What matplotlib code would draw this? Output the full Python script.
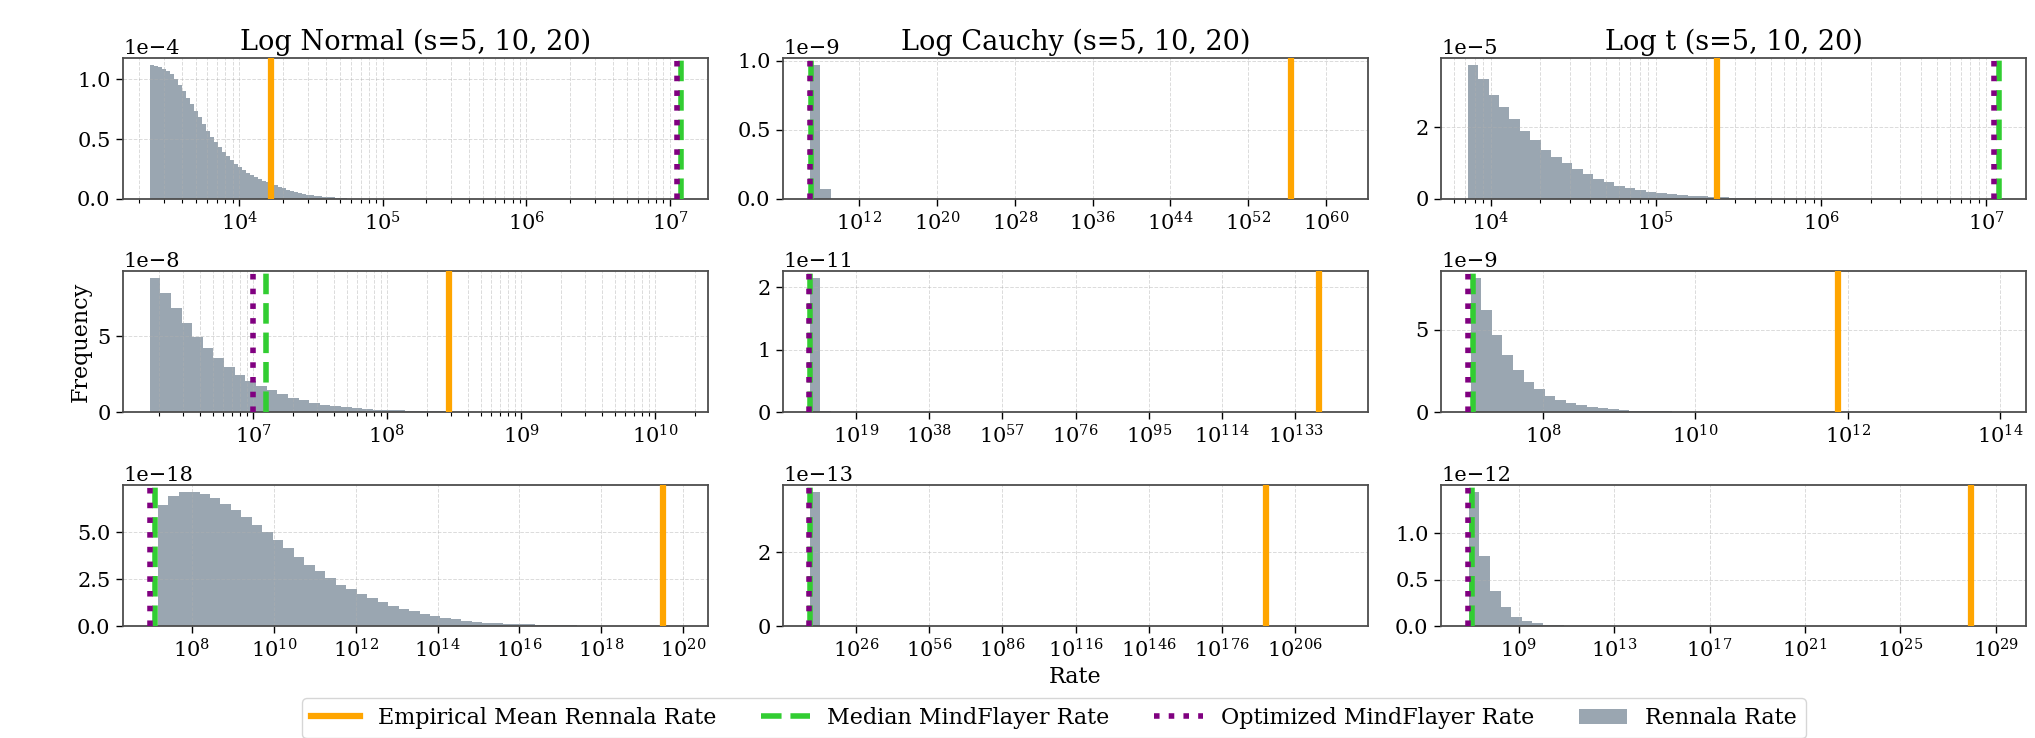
import numpy as np
import matplotlib
matplotlib.use("Agg")
import matplotlib.pyplot as plt
from matplotlib.ticker import LogLocator, NullLocator, NullFormatter, FixedLocator

plt.rcParams['font.family'] = 'serif'
plt.rcParams['font.serif'] = ['DejaVu Serif']
plt.rcParams['mathtext.fontset'] = 'dejavuserif'

col_titles = ["Log Normal (s=5, 10, 20)", "Log Cauchy (s=5, 10, 20)", "Log t (s=5, 10, 20)"]
legend_labels = ["Empirical Mean Rennala Rate", "Median MindFlayer Rate",
                 "Optimized MindFlayer Rate", "Rennala Rate"]

# Panels in row-major order: rows s=5,10,20 ; cols Log Normal, Log Cauchy, Log t
hist_scale = [1e-4, 1e-9, 1e-5, 1e-8, 1e-11, 1e-9, 1e-18, 1e-13, 1e-12]
hist_lo_exp = [3.375, 6.90, 3.86, 6.228, 7.05, 7.05, 7.16, 7.05, 6.90]
hist_hi_exp = [4.775, 61.6, 7.03, 10.197, 144.9, 13.994, 19.96, 224.9, 29.16]

heights_ln5 = [1.12, 1.11, 1.10, 1.085, 1.065, 1.04, 1.0, 0.95, 0.90, 0.845,
               0.79, 0.735, 0.68, 0.625, 0.57, 0.52, 0.475, 0.435, 0.395, 0.36,
               0.325, 0.295, 0.27, 0.245, 0.22, 0.198, 0.18, 0.165, 0.152, 0.14,
               0.128, 0.115, 0.102, 0.09, 0.078, 0.068, 0.058, 0.05, 0.043, 0.037,
               0.032, 0.027, 0.023, 0.019, 0.016, 0.013, 0.011, 0.008, 0.006, 0.004]
heights_lc5 = [0.97, 0.07] + [0.0] * 48
heights_lt5 = [3.74, 3.35, 2.91, 2.56, 2.24, 1.89, 1.64, 1.36, 1.18, 0.99,
               0.83, 0.69, 0.57, 0.46, 0.37, 0.31, 0.25, 0.2, 0.17, 0.14,
               0.11, 0.09, 0.07, 0.055, 0.045, 0.035, 0.028, 0.022, 0.017, 0.013,
               0.01, 0.008, 0.006, 0.005, 0.004, 0.003, 0.0025, 0.002, 0.0015, 0.001,
               0.001, 0.0008, 0.0006, 0.0005, 0.0004, 0.0003, 0.0002, 0.0002, 0.0001, 0.0001]
heights_ln10 = [8.86, 7.83, 6.84, 5.86, 4.98, 4.25, 3.55, 2.94, 2.46, 2.05,
                1.72, 1.42, 1.16, 0.94, 0.76, 0.61, 0.49, 0.39, 0.31, 0.25,
                0.2, 0.16, 0.125, 0.1, 0.08, 0.063, 0.05, 0.04, 0.031, 0.025,
                0.019, 0.015, 0.012, 0.009, 0.007, 0.0055, 0.004, 0.003, 0.0025, 0.002,
                0.0015, 0.001, 0.0008, 0.0006, 0.0005, 0.0004, 0.0003, 0.0002, 0.0002, 0.0001]
heights_lc10 = [2.15, 0.02] + [0.0] * 48
heights_lt10 = [8.17, 6.2, 4.66, 3.45, 2.55, 1.84, 1.38, 1.0, 0.74, 0.54,
                0.4, 0.3, 0.22, 0.16, 0.12, 0.09, 0.065, 0.05, 0.035, 0.025,
                0.018, 0.013, 0.01, 0.007, 0.005, 0.004, 0.003, 0.002, 0.0015, 0.001,
                0.0008, 0.0006, 0.0005, 0.0004, 0.0003, 0.0002, 0.0002, 0.0001, 0.0001, 0.0001,
                0.00008, 0.00006, 0.00005, 0.00004, 0.00003, 0.00002, 0.00002, 0.00001, 0.00001, 0.00001]
heights_ln20 = [6.45, 6.94, 7.12, 7.15, 7.03, 6.8, 6.5, 6.16, 5.8, 5.4,
                5.0, 4.58, 4.15, 3.7, 3.27, 2.92, 2.57, 2.2, 1.96, 1.7,
                1.47, 1.26, 1.09, 0.91, 0.79, 0.65, 0.52, 0.44, 0.35, 0.28,
                0.23, 0.17, 0.14, 0.12, 0.1, 0.08, 0.065, 0.05, 0.04, 0.032,
                0.025, 0.02, 0.015, 0.012, 0.009, 0.007, 0.005, 0.004, 0.003, 0.002]
heights_lc20 = [3.64, 0.01] + [0.0] * 48
heights_lt20 = [1.45, 0.757, 0.375, 0.2, 0.096, 0.05, 0.028, 0.015, 0.008, 0.005,
                0.003, 0.002, 0.0015, 0.001, 0.0008, 0.0006, 0.0004, 0.0003, 0.0002, 0.0002] + [0.0] * 30

all_heights = [heights_ln5, heights_lc5, heights_lt5,
               heights_ln10, heights_lc10, heights_lt10,
               heights_ln20, heights_lc20, heights_lt20]

mean_rennala = [1.65e4, 2.5e56, 2.34e5, 2.9e8, 1.15e139, 7.4e11, 3.2e19, 7.9e193, 9.5e27]
median_mindflayer = [1.2e7, 1.0e7, 1.2e7, 1.24e7, 1.2e7, 1.2e7, 1.27e7, 1.2e7, 1.1e7]
optimized_mindflayer = [1.12e7, 7.9e6, 1.12e7, 1.0e7, 1.0e7, 1.02e7, 9.2e6, 1.0e7, 7.1e6]

ytick_vals = [[0, 0.5, 1.0], [0, 0.5, 1.0], [0, 2],
              [0, 5], [0, 1, 2], [0, 5],
              [0, 2.5, 5.0], [0, 2], [0, 0.5, 1.0]]
xtick_exps = [[4, 5, 6, 7], [12, 20, 28, 36, 44, 52, 60], [4, 5, 6, 7],
              [7, 8, 9, 10], [19, 38, 57, 76, 95, 114, 133], [8, 10, 12, 14],
              [8, 10, 12, 14, 16, 18, 20], [26, 56, 86, 116, 146, 176, 206], [9, 13, 17, 21, 25, 29]]
minor_decades = [True, False, True, True, False, False, False, False, False]

W, H = 2035, 738
fig = plt.figure(figsize=(W / 100, H / 100), dpi=100)

col_left = [123, 783, 1441]
col_w = 585
row_bottom = [199, 412, 626]
row_h = 141

TICK_FS = 15
for i in range(9):
    r, c = divmod(i, 3)
    ax = fig.add_axes([col_left[c] / W, 1 - row_bottom[r] / H, col_w / W, row_h / H])
    h = np.array(all_heights[i]) * hist_scale[i]
    edges = np.logspace(hist_lo_exp[i], hist_hi_exp[i], len(h) + 1)
    centers = np.sqrt(edges[:-1] * edges[1:])
    ax.hist(centers, bins=edges, weights=h, histtype='stepfilled',
            color='slategray', alpha=0.7, label=legend_labels[3], zorder=1)
    ax.axvline(mean_rennala[i], color='orange', lw=4.5, label=legend_labels[0], zorder=3)
    ax.axvline(median_mindflayer[i], color='limegreen', ls='--', lw=4, label=legend_labels[1], zorder=3)
    ax.axvline(optimized_mindflayer[i], color='purple', ls=':', lw=4, label=legend_labels[2], zorder=3)
    ax.set_xscale('log')
    ax.xaxis.set_major_locator(FixedLocator(10.0 ** np.array(xtick_exps[i], dtype=float)))
    if minor_decades[i]:
        ax.xaxis.set_minor_locator(LogLocator(base=10, subs=np.arange(2, 10) * 1.0, numticks=100))
    else:
        ax.xaxis.set_minor_locator(NullLocator())
    ax.xaxis.set_minor_formatter(NullFormatter())
    ax.set_yticks(np.array(ytick_vals[i]) * hist_scale[i])
    ax.ticklabel_format(axis='y', style='sci', scilimits=(0, 0))
    ax.yaxis.get_offset_text().set_fontsize(TICK_FS)
    ax.tick_params(labelsize=TICK_FS, length=5, width=1.0, pad=4)
    ax.tick_params(which='minor', length=3, width=0.8)
    ax.grid(True, which='both', linestyle='--', linewidth=0.7, alpha=0.45)
    for sp in ax.spines.values():
        sp.set_linewidth(1.3)
        sp.set_color('0.3')
    if r == 0:
        ax.set_title(col_titles[c], fontsize=19.5, pad=6)
    if r == 1 and c == 0:
        ax.set_ylabel("Frequency", fontsize=16)
    if r == 2 and c == 1:
        ax.set_xlabel("Rate", fontsize=16, labelpad=3)
    if i == 0:
        handles, labels = ax.get_legend_handles_labels()

order = [labels.index(l) for l in legend_labels]
fig.legend([handles[k] for k in order], [labels[k] for k in order],
           loc='center', bbox_to_anchor=(0.518, 0.027), ncol=4, fontsize=16,
           handlelength=2.2, columnspacing=2.0, frameon=True)

fig.savefig("out.png", dpi=100)
